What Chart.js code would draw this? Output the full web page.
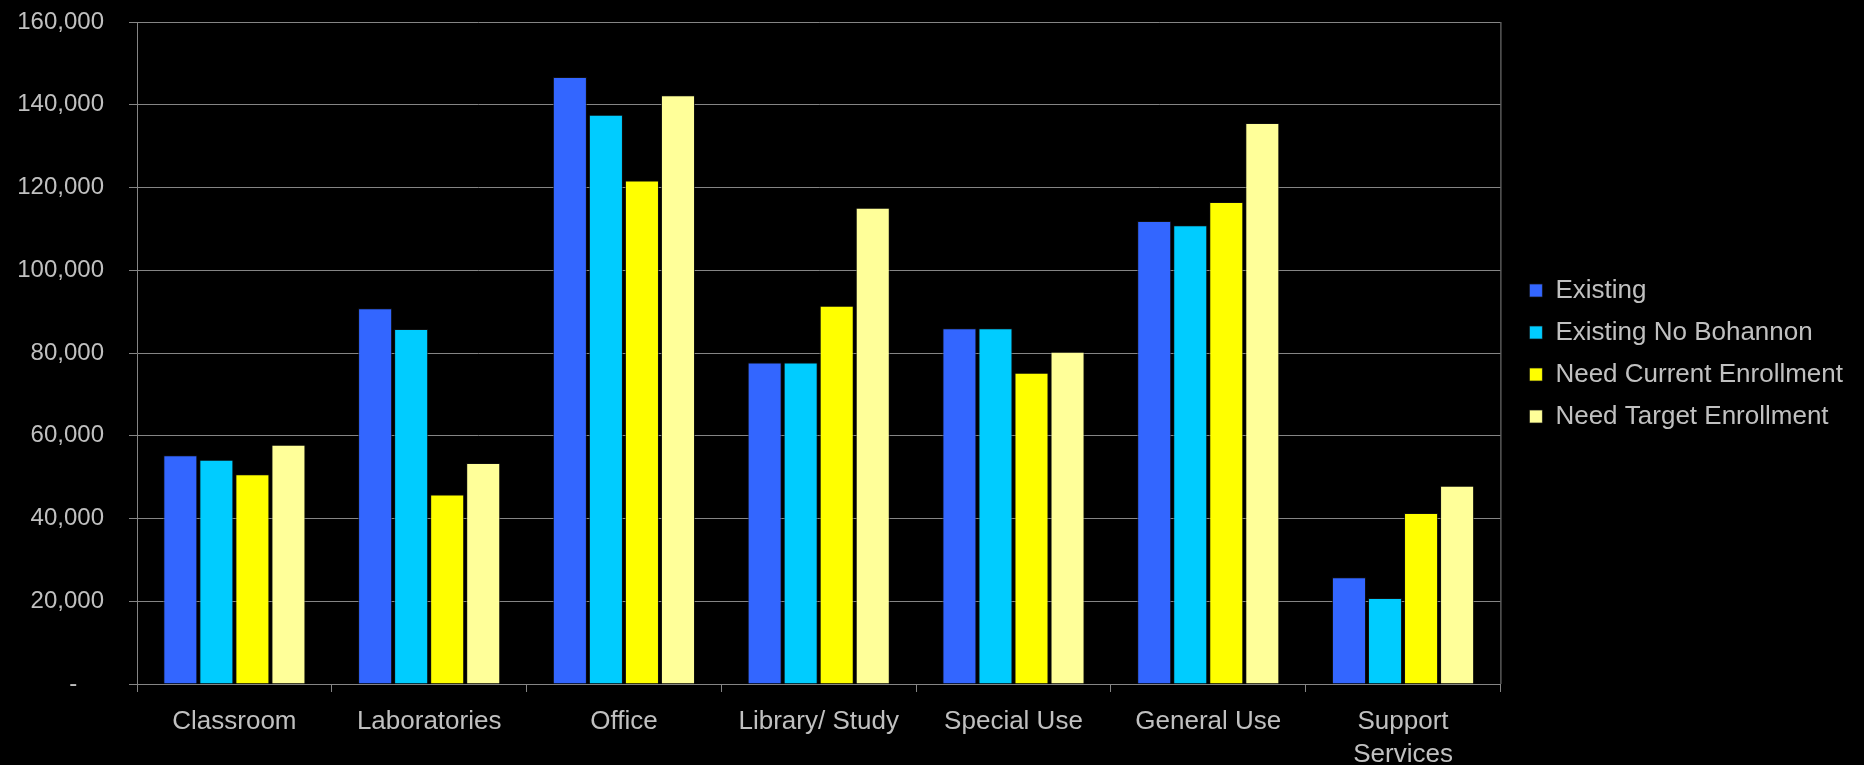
<!DOCTYPE html>
<html>
<head>
<meta charset="utf-8">
<script src="https://cdn.jsdelivr.net/npm/chart.js@4.4.6/dist/chart.umd.js"></script>
<style>
  html, body { margin: 0; padding: 0; background: #000; }
  canvas { display: block; }
</style>
</head>
<body>
<canvas id="myChart" width="1864" height="765"></canvas>
<script>
// categories and series
const categories = ['Classroom', 'Laboratories', 'Office', 'Library/ Study', 'Special Use', 'General Use', ['Support', 'Services']];
const existing = [55300, 90800, 146700, 77700, 86000, 111900, 25800];
const existingNoBohannon = [54200, 85800, 137600, 77700, 86000, 110900, 20800];
const needCurrent = [50700, 45800, 121700, 91400, 75200, 116500, 41300];
const needTarget = [57800, 53400, 142300, 115100, 80300, 135600, 47900];

const textColor = '#c0c0c0';
const gridColor = '#858585';
const fontFamily = "'Liberation Sans', Arial, sans-serif";

// move the legend a little, Excel puts it off the plot edge
const legendShift = {
  id: 'legendShift',
  afterLayout(chart) {
    const l = chart.legend;
    l.left += 13; l.right += 13;
    l.top -= 40; l.bottom -= 40;
  }
};

// right edge of plot area
const plotBorder = {
  id: 'plotBorder',
  afterDatasetsDraw(chart) {
    const {ctx, chartArea} = chart;
    ctx.save();
    ctx.strokeStyle = gridColor;
    ctx.lineWidth = 1;
    ctx.beginPath();
    ctx.moveTo(chartArea.right + 0.5, chartArea.top);
    ctx.lineTo(chartArea.right + 0.5, chartArea.bottom);
    ctx.stroke();
    ctx.restore();
  }
};

const ctx = document.getElementById('myChart').getContext('2d');
const myChart = new Chart(ctx, {
    type: 'bar',
    data: {
        labels: categories,
        datasets: [
            {label: 'Existing', data: existing, backgroundColor: '#3366ff'},
            {label: 'Existing No Bohannon', data: existingNoBohannon, backgroundColor: '#00ccff'},
            {label: 'Need Current Enrollment', data: needCurrent, backgroundColor: '#ffff00'},
            {label: 'Need Target Enrollment', data: needTarget, backgroundColor: '#ffff99'}
        ]
    },
    options: {
        responsive: false,
        animation: false,
        datasets: {
            bar: {
                categoryPercentage: 0.74,
                barPercentage: 0.945,
                borderWidth: 1,
                borderColor: 'rgba(20,20,20,0.7)'
            }
        },
        layout: {
            padding: {top: 22, right: 24, bottom: 0, left: 0}
        },
        scales: {
            x: {
                grid: {
                    display: true,
                    drawOnChartArea: false,
                    drawTicks: true,
                    tickLength: 8,
                    color: gridColor
                },
                border: {color: gridColor},
                ticks: {
                    color: textColor,
                    padding: 14,
                    maxRotation: 0,
                    autoSkip: false,
                    font: {family: fontFamily, size: 26, lineHeight: 1.24}
                },
                afterFit(scale) { scale.height = 81; }
            },
            y: {
                min: 0,
                max: 160000,
                grid: {
                    color: gridColor,
                    tickLength: 8
                },
                border: {color: gridColor},
                ticks: {
                    stepSize: 20000,
                    color: textColor,
                    padding: 25,
                    font: {family: fontFamily, size: 24},
                    callback: (v) => v === 0 ? '-    ' : v.toLocaleString('en-US')
                },
                afterFit(scale) {
                    scale.width = 137;
                    scale.paddingTop = 0;
                    scale.paddingBottom = 0;
                }
            }
        },
        plugins: {
            legend: {
                position: 'right',
                labels: {
                    color: textColor,
                    boxWidth: 13,
                    boxHeight: 13,
                    padding: 16,
                    font: {family: fontFamily, size: 26}
                }
            },
            tooltip: {enabled: false}
        }
    },
    plugins: [legendShift, plotBorder]
});
</script>
</body>
</html>
